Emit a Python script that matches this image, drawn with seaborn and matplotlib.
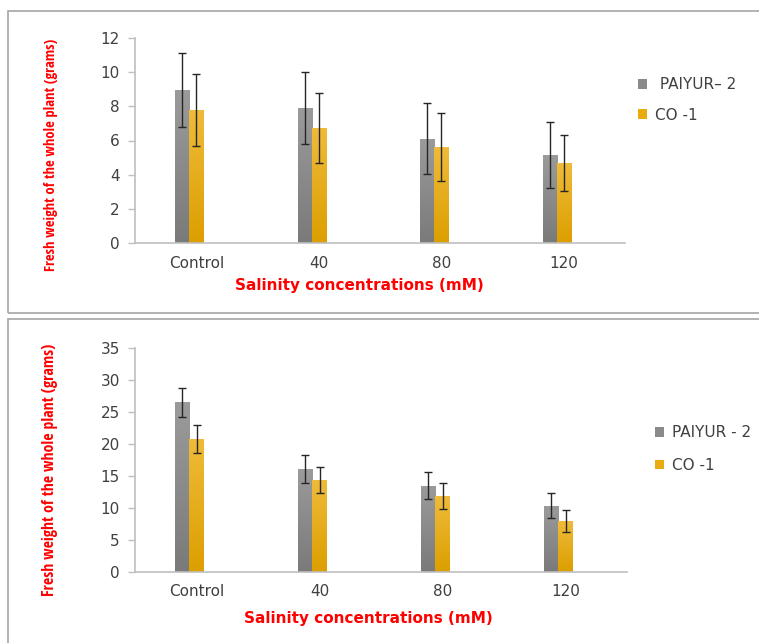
import numpy as np
import pandas as pd
import matplotlib
matplotlib.use("Agg")
import matplotlib.pyplot as plt
from matplotlib.patches import Rectangle, Patch
from matplotlib import font_manager
import seaborn as sns

# ---- data -------------------------------------------------------------
categories = ["Control", "40", "80", "120"]

# panel 1
labels_1 = [" PAIYUR\u2013 2", "CO -1"]
paiyur_1 = [8.95, 7.91, 6.10, 5.15]
paiyur_1_sd = [2.18, 2.12, 2.07, 1.93]
co_1 = [7.78, 6.74, 5.61, 4.68]
co_1_sd = [2.11, 2.05, 2.00, 1.64]

# panel 2
labels_2 = ["PAIYUR - 2", "CO -1"]
paiyur_2 = [26.55, 16.17, 13.50, 10.38]
paiyur_2_sd = [2.25, 2.20, 2.10, 1.95]
co_2 = [20.86, 14.40, 11.85, 8.03]
co_2_sd = [2.20, 2.10, 2.00, 1.70]

y_ticks_1 = [0, 2, 4, 6, 8, 10, 12]
y_ticks_2 = [0, 5, 10, 15, 20, 25, 30, 35]

ylabel = "Fresh weight of the whole plant (grams)"
xlabel = "Salinity concentrations (mM)"

# ---- style ------------------------------------------------------------
sns.set_style("white")
plt.rcParams["font.family"] = ["DejaVu Sans"]

GRAY_TOP, GRAY_BOT = "#9b9b9b", "#7a7a7a"
GOLD_TOP, GOLD_BOT = "#efbb3a", "#dc9f00"
AXIS_COL = "#bfbfbf"
TEXT_COL = "#404040"
RED = "#ff0000"


def pick_label_font():
    for fam in ["Liberation Sans Narrow", "Open Sans Condensed", "Roboto Condensed"]:
        try:
            font_manager.findfont(font_manager.FontProperties(family=fam),
                                  fallback_to_default=False)
            return fam, True
        except Exception:
            continue
    return "Liberation Sans", False


label_family, narrow = pick_label_font()

fig = plt.figure(figsize=(7.59, 6.43), dpi=100)

# panel borders
fig.add_artist(Rectangle((8 / 759, 1 - 313 / 643), 1.2, 302 / 643,
                         transform=fig.transFigure, fill=False,
                         edgecolor="#a6a6a6", lw=1.2))
fig.add_artist(Rectangle((8 / 759, -0.1), 1.2, 0.1 + 1 - 319 / 643,
                         transform=fig.transFigure, fill=False,
                         edgecolor="#a6a6a6", lw=1.2))

ax1 = fig.add_axes([135 / 759, 1 - 243 / 643, 490 / 759, 205 / 643])
ax2 = fig.add_axes([135 / 759, 1 - 572 / 643, 492 / 759, 223.7 / 643])

gradient = np.linspace(1, 0, 256).reshape(-1, 1)


def shade_bar(ax, patch, top, bot):
    x0, y0 = patch.get_x(), patch.get_y()
    w, h = patch.get_width(), patch.get_height()
    if h <= 0:
        return
    cmap = matplotlib.colors.LinearSegmentedColormap.from_list("g", [bot, top])
    im = ax.imshow(gradient, cmap=cmap, aspect="auto",
                   extent=[x0, x0 + w, y0, y0 + h], zorder=patch.get_zorder() + 0.1,
                   vmin=0, vmax=1)
    im.set_clip_path(patch)


def panel(ax, labels, v1, s1, v2, s2, yticks, ymax, ylab_y, xlab_xy,
          legend_xy, lab_size, spacing):
    df = pd.DataFrame({
        "cat": categories * 2,
        "variety": [labels[0]] * 4 + [labels[1]] * 4,
        "value": list(v1) + list(v2),
    })
    spare = "  "
    sns.barplot(data=df, x="cat", y="value", hue="variety",
                order=categories, hue_order=[labels[0], labels[1], spare],
                palette={labels[0]: GRAY_BOT, labels[1]: GOLD_BOT, spare: "white"},
                width=0.343, errorbar=None, legend=False, linewidth=0,
                saturation=1, ax=ax)

    bars = [p for p in ax.patches if p.get_height() > 0]
    bars.sort(key=lambda p: p.get_x())
    gray_bars = [b for b in bars if matplotlib.colors.to_hex(b.get_facecolor()) == GRAY_BOT]
    gold_bars = [b for b in bars if matplotlib.colors.to_hex(b.get_facecolor()) == GOLD_BOT]

    for b in gray_bars:
        shade_bar(ax, b, GRAY_TOP, GRAY_BOT)
    for b in gold_bars:
        shade_bar(ax, b, GOLD_TOP, GOLD_BOT)

    for group, sds in ((gray_bars, s1), (gold_bars, s2)):
        xs = [b.get_x() + b.get_width() / 2 for b in group]
        ys = [b.get_height() for b in group]
        ax.errorbar(xs, ys, yerr=sds, fmt="none", ecolor="#262626",
                    elinewidth=1.0, capsize=3, capthick=1.0, zorder=5)

    ax.set_xlim(-0.5, 3.5)
    ax.set_ylim(0, ymax)
    ax.set_yticks(yticks)
    ax.set_yticklabels([str(t) for t in yticks])
    ax.set_xticks(range(len(categories)))
    ax.set_xticklabels(categories)
    ax.set_xticks(np.arange(-0.5, 4, 1.0), minor=True)
    ax.tick_params(axis="x", which="major", length=0, pad=9,
                   labelsize=11, labelcolor=TEXT_COL)
    ax.tick_params(axis="x", which="minor", length=5, width=1, color=AXIS_COL,
                   direction="out")
    ax.tick_params(axis="y", which="major", length=5, width=1, color=AXIS_COL,
                   pad=6, labelsize=11, labelcolor=TEXT_COL, left=True)
    for s in ("top", "right"):
        ax.spines[s].set_visible(False)
    for s in ("left", "bottom"):
        ax.spines[s].set_color(AXIS_COL)
        ax.spines[s].set_linewidth(1.2)

    ax.set_ylabel(ylabel, color=RED, fontweight="bold", family=label_family,
                  fontsize=lab_size)
    ax.yaxis.set_label_coords(-0.157, ylab_y)
    ax.set_xlabel(xlabel, color=RED, fontweight="bold", fontsize=11)
    ax.xaxis.set_label_coords(*xlab_xy)

    handles = [Patch(facecolor="#8a8a8a", edgecolor="none"),
               Patch(facecolor="#e8ab10", edgecolor="none")]
    leg = fig.legend(handles, labels, loc="center left",
                     bbox_to_anchor=legend_xy, bbox_transform=fig.transFigure,
                     frameon=False, handlelength=0.6, handleheight=0.6,
                     handletextpad=0.5, labelspacing=spacing, fontsize=11)
    for t in leg.get_texts():
        t.set_color(TEXT_COL)


size_1 = 10.5 if narrow else 8.7
size_2 = 11.4 if narrow else 9.5
panel(ax1, labels_1, paiyur_1, paiyur_1_sd, co_1, co_1_sd, y_ticks_1, 12,
      0.43, (0.457, -0.172), (624 / 759, 1 - 100 / 643), size_1, 1.0)
panel(ax2, labels_2, paiyur_2, paiyur_2_sd, co_2, co_2_sd, y_ticks_2, 35,
      0.456, (0.474, -0.175), (641 / 759, 1 - 449 / 643), size_2, 1.15)

fig.savefig("out.png", dpi=100)
